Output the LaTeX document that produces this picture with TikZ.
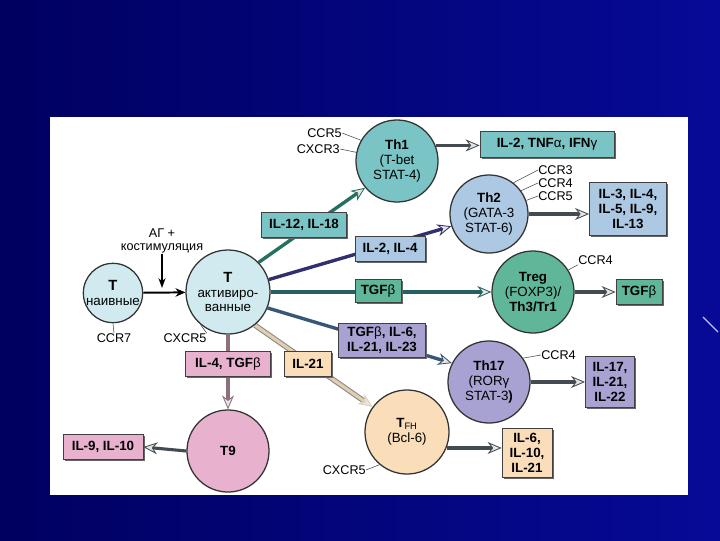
\documentclass[tikz,border=0pt]{standalone}
\usepackage{fontspec}
\setmainfont{Liberation Sans}
\usepackage{tikz}
\usetikzlibrary{shapes, arrows.meta, positioning, calc, shadows}
\definecolor{slidedark}{RGB}{0, 0, 96}
\definecolor{slidelight}{RGB}{6, 10, 150}
\definecolor{naivecol}{RGB}{208, 234, 240}
\definecolor{th1col}{RGB}{122, 196, 198}
\definecolor{th2col}{RGB}{172, 200, 226}
\definecolor{tregcol}{RGB}{96, 182, 152}
\definecolor{th17col}{RGB}{168, 162, 210}
\definecolor{tfhcol}{RGB}{250, 222, 186}
\definecolor{t9col}{RGB}{232, 178, 206}
\definecolor{th1line}{RGB}{38, 112, 96}
\definecolor{th2line}{RGB}{48, 48, 112}
\definecolor{tregline}{RGB}{38, 96, 96}
\definecolor{th17line}{RGB}{56, 86, 118}
\definecolor{tfhline}{RGB}{228, 206, 176}
\definecolor{t9line}{RGB}{142, 112, 124}
\definecolor{secline}{RGB}{66, 76, 80}
\pgfdeclarelayer{back}
\pgfdeclarelayer{links}
\pgfsetlayers{back,links,main}
\tikzset{
  cell/.style={circle, draw=black!80, line width=0.9pt, fill=#1, inner sep=0pt, align=center, font=\fontsize{9.5}{10.5}\selectfont},
  cyto/.style={draw=black!75, line width=0.5pt, fill=#1, inner sep=1pt, align=center, font=\fontsize{9.5}{10.5}\selectfont\bfseries, drop shadow={shadow xshift=1.3pt, shadow yshift=-1.3pt, fill=black!60, opacity=1}},
  recp/.style={inner sep=0pt, font=\fontsize{9}{10}\selectfont},
  recline/.style={draw=black!70, line width=0.4pt},
  diff/.style={draw=#1, line width=2.4pt, -{Stealth[length=10pt, width=8.5pt, fill=black!10, line width=0.6pt]}},
  secr/.style={draw=secline, line width=2.2pt, -{Stealth[length=10pt, width=8.5pt, fill=black!10, line width=0.6pt]}},
}

\begin{document}
\begin{tikzpicture}[x=0.025cm, y=-0.025cm]
  \useasboundingbox (0,0) rectangle (720,540);
  \begin{pgfonlayer}{back}
    \shade[left color=slidedark, right color=slidelight] (0,0) rectangle (720,540);
    \draw[white!75!blue, line width=0.8pt] (703,317) -- (718,332);
    \fill[white] (50,117) rectangle (688,495);
  \end{pgfonlayer}

  % cells
  \node[cell=naivecol, minimum size=1.35cm] (tnaive) at (113,293) {\textbf{\fontsize{10.5}{11}\selectfont T}\\наивные};
  \node[cell=naivecol, minimum size=2.1cm] (tact) at (228,292) {\textbf{\fontsize{10.5}{11}\selectfont T}\\активиро-\\ванные};
  \node[cell=th1col, minimum size=2.05cm] (th1) at (397,161) {\textbf{Th1}\\(T-bet\\STAT-4)};
  \node[cell=th2col, minimum size=1.95cm] (th2) at (489,214) {\textbf{Th2}\\(GATA-3\\STAT-6)};
  \node[cell=tregcol, minimum size=2.05cm] (treg) at (533,292) {\textbf{Treg}\\(FOXP3)/\\\textbf{Th3/Tr1}};
  \node[cell=th17col, minimum size=2.05cm] (th17) at (489,382) {\textbf{Th17}\\(RORγ\\STAT-3\textbf{)}};
  \node[cell=tfhcol, minimum size=2.1cm] (tfh) at (407,432) {\textbf{T}\textsubscript{FH}\\(Bcl-6)};
  \node[cell=t9col, minimum size=2.05cm] (t9) at (228,451) {\textbf{T9}};

  % cytokines
  \node[cyto=th1col, minimum width=3.35cm, minimum height=0.65cm] (th1out) at (547,144) {IL-2, TNF{\mdseries α}, IFN{\mdseries γ}};
  \node[cyto=th2col, minimum width=1.93cm, minimum height=1.33cm] (th2out) at (628,209) {IL-3, IL-4,\\IL-5, IL-9,\\IL-13};
  \node[cyto=th1col, minimum width=2.13cm, minimum height=0.63cm] (il12) at (304,225) {IL-12, IL-18};
  \node[cyto=th2col, minimum width=1.75cm, minimum height=0.63cm] (il2) at (390,249) {IL-2, IL-4};
  \node[cyto=tregcol, minimum width=1.15cm, minimum height=0.58cm] (tgfin) at (378,291) {TGF{\mdseries β}};
  \node[cyto=tregcol, minimum width=1.15cm, minimum height=0.63cm] (tgfout) at (639,292) {TGF{\mdseries β}};
  \node[cyto=th17col, minimum width=2.18cm, minimum height=0.85cm] (th17in) at (382,340) {TGF{\mdseries β}, IL-6,\\IL-21, IL-23};
  \node[cyto=th17col, minimum width=1.23cm, minimum height=1.28cm] (th17out) at (610,382) {IL-17,\\IL-21,\\IL-22};
  \node[cyto=tfhcol, minimum width=1.25cm, minimum height=1.23cm] (tfhout) at (527,453) {IL-6,\\IL-10,\\IL-21};
  \node[cyto=t9col, minimum width=2.13cm, minimum height=0.63cm] (t9in) at (228,364) {IL-4, TGF{\mdseries β}};
  \node[cyto=tfhcol, minimum width=1.18cm, minimum height=0.63cm] (il21) at (308,364) {IL-21};
  \node[cyto=t9col, minimum width=2cm, minimum height=0.63cm] (t9out) at (103,447) {IL-9, IL-10};

  % receptors
  \node[recp, anchor=east] (ccr5a) at (342,133) {CCR5};
  \node[recp, anchor=east] (cxcr3) at (340,149) {CXCR3};
  \node[recp, anchor=west] (ccr3) at (538,170) {CCR3};
  \node[recp, anchor=west] (ccr4a) at (538,183) {CCR4};
  \node[recp, anchor=west] (ccr5b) at (538,196) {CCR5};
  \node[recp, anchor=west] (ccr4b) at (578,260) {CCR4};
  \node[recp, anchor=west] (ccr4c) at (541,355) {CCR4};
  \node[recp] (ccr7) at (114,338) {CCR7};
  \node[recp] (cxcr5a) at (185,338) {CXCR5};
  \node[recp, anchor=east] (cxcr5b) at (366,470) {CXCR5};
  \node[recp, align=center, font=\fontsize{9}{9.5}\selectfont] (ag) at (162,241) {АГ +\\костимуляция};
  \coordinate (agend) at (162,288);

  \draw[recline] (ccr5a.east) -- (th1.150);
  \draw[recline] (cxcr3.east) -- (th1.168);
  \draw[recline] (ccr3.west) -- (th2.52);
  \draw[recline] (ccr4a.west) -- (th2.36);
  \draw[recline] (ccr5b.west) -- (th2.20);
  \draw[recline] (ccr4b.south west) -- (treg.32);
  \draw[recline] (ccr4c.west) -- (th17.35);
  \draw[recline] (tnaive.south) -- (ccr7.north);
  \draw[recline] (cxcr5a.north east) -- (tact.230);
  \draw[recline] (cxcr5b.east) -- (tfh.230);

  % differentiation
  \draw[-{Stealth[length=7pt, width=6pt]}, line width=1.4pt] (tnaive) -- (tact);
  \draw[-{Stealth[length=7pt, width=5pt]}, line width=1.2pt] (ag.south) -- (agend);
  \begin{pgfonlayer}{links}
    \draw[diff=th1line] (tact.44) -- (th1.220);
    \draw[diff=th2line] (tact.17) -- (th2.198);
    \draw[diff=tregline] (tact.east) -- (treg.west);
    \draw[diff=th17line] (tact.-22) -- (th17.153);
    \draw[draw=black!45, line width=3.8pt, shorten >=8pt] (tact.-51) -- (tfh.144);
    \draw[diff=tfhline, line width=2.2pt] (tact.-51) -- (tfh.144);
    \draw[diff=t9line] (tact.south) -- (t9.north);
  \end{pgfonlayer}

  % secretion
  \draw[secr] (th1.22) -- (th1.22 -| th1out.west);
  \draw[secr] (th2.east) -- (th2.east -| th2out.west);
  \draw[secr] (treg.east) -- (tgfout.west);
  \draw[secr] (th17.east) -- (th17out.west);
  \draw[secr] (tfh.-22) -- (tfh.-22 -| tfhout.west);
  \draw[secr] (t9.west) -- (t9out.east);
\end{tikzpicture}
\end{document}
